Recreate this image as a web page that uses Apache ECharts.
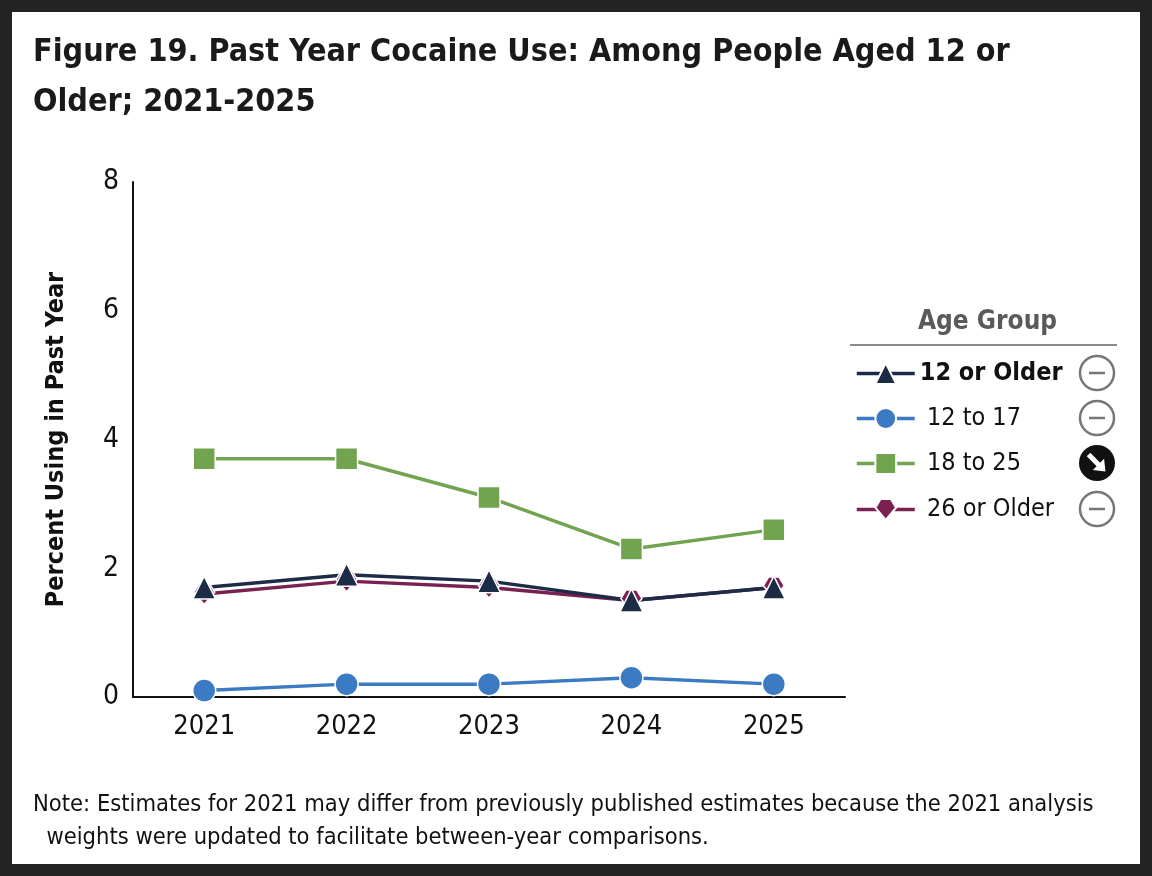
<!DOCTYPE html>
<html>
<head>
    <meta charset="utf-8" />
    <title>Figure 19. Past Year Cocaine Use</title>
    <script src="https://cdn.jsdelivr.net/npm/echarts@6/dist/echarts.min.js"></script>
    <style type="text/css">
        html,
        body {
            width: 100%;
            height: 100%;
            margin: 0;
            background: #232323;
        }

        #chart {
            position: absolute;
            left: 12px;
            top: 12px;
            width: 1128px;
            height: 852px;
            background: #ffffff;
        }
    </style>
</head>
<body>
    <div id="chart"></div>
    <script>
        var years = ['2021', '2022', '2023', '2024', '2025'];
        var yTicks = [0, 2, 4, 6, 8];
        var groupNames = ['12 or Older', '12 to 17', '18 to 25', '26 or Older'];
        var olderAll = [1.7, 1.9, 1.8, 1.5, 1.7];
        var age12to17 = [0.1, 0.2, 0.2, 0.3, 0.2];
        var age18to25 = [3.7, 3.7, 3.1, 2.3, 2.6];
        var older26 = [1.6, 1.8, 1.7, 1.5, 1.7];
        // trend vs 2024: 'flat' or 'down'
        var trends = ['flat', 'flat', 'down', 'flat'];

        var font = '"Liberation Sans Narrow", "DejaVu Sans Condensed", "Liberation Sans", sans-serif';
        var colors = {
            '12 or Older': '#1d2c46',
            '12 to 17': '#3b7bc3',
            '18 to 25': '#72a450',
            '26 or Older': '#7a2152'
        };
        var shield = 'path://M3,0 L9,0 L12,5 L6,12 L0,5 Z';

        function makeSeries(name, data, symbol, size) {
            return {
                name: name,
                type: 'line',
                data: data,
                symbol: symbol,
                symbolSize: size,
                showSymbol: true,
                lineStyle: { color: colors[name], width: 3.5 },
                itemStyle: { color: colors[name], borderColor: '#ffffff', borderWidth: 1.5 },
                emphasis: { disabled: true }
            };
        }

        var rowY = [361, 406, 451, 497];

        var legends = groupNames.map(function (n, i) {
            return {
                data: [n],
                orient: 'vertical',
                left: 838,
                top: rowY[i] - 17,
                itemWidth: 58,
                itemHeight: 26,
                itemGap: 0,
                selectedMode: false,
                formatter: i === 0 ? '{name}' : ' {name}',
                lineStyle: { width: 3.5 },
                textStyle: {
                    fontFamily: font,
                    fontSize: 25,
                    fontWeight: i === 0 ? 'bold' : 'normal',
                    color: '#111111'
                }
            };
        });

        var graphics = [
            {
                type: 'text',
                left: 906,
                top: 297,
                style: { text: 'Age Group', font: 'bold 26px ' + font, fill: '#5a5a5a' }
            },
            {
                type: 'line',
                shape: { x1: 838, y1: 333, x2: 1105, y2: 333 },
                style: { stroke: '#8a8a8a', lineWidth: 2 }
            }
        ];
        trends.forEach(function (t, i) {
            var cy = rowY[i];
            if (t === 'flat') {
                graphics.push({
                    type: 'circle',
                    shape: { cx: 1085, cy: cy, r: 17 },
                    style: { fill: '#ffffff', stroke: '#777777', lineWidth: 2.5 }
                });
                graphics.push({
                    type: 'line',
                    shape: { x1: 1077, y1: cy, x2: 1093, y2: cy },
                    style: { stroke: '#777777', lineWidth: 2.5 }
                });
            } else {
                graphics.push({
                    type: 'circle',
                    shape: { cx: 1085, cy: cy, r: 18 },
                    style: { fill: '#111111' }
                });
                graphics.push({
                    type: 'polygon',
                    x: 1085,
                    y: cy,
                    rotation: -Math.PI / 4,
                    shape: { points: [[-12, -2.5], [2, -2.5], [2, -8], [12, 0], [2, 8], [2, 2.5], [-12, 2.5]] },
                    style: { fill: '#ffffff' }
                });
            }
        });

        var chart = echarts.init(document.getElementById('chart'));
        chart.setOption({
            animation: false,
            title: [
                {
                    text: 'Figure 19. Past Year Cocaine Use: Among People Aged 12 or\nOlder; 2021-2025',
                    left: 16,
                    top: 11,
                    textStyle: { fontFamily: font, fontSize: 32, fontWeight: 'bold', color: '#1a1a1a', lineHeight: 50 }
                },
                {
                    text: 'Note: Estimates for 2021 may differ from previously published estimates because the 2021 analysis\n  weights were updated to facilitate between-year comparisons.',
                    left: 16,
                    top: 771,
                    textStyle: { fontFamily: font, fontSize: 23.5, fontWeight: 'normal', color: '#111111', lineHeight: 33 }
                }
            ],
            legend: legends,
            grid: { left: 121, top: 170, width: 712, height: 515 },
            xAxis: {
                type: 'category',
                data: years,
                boundaryGap: true,
                axisLine: { lineStyle: { color: '#111111', width: 2 } },
                axisTick: { show: false },
                axisLabel: { fontFamily: font, fontSize: 27, color: '#111111', margin: 16 }
            },
            yAxis: {
                type: 'value',
                min: yTicks[0],
                max: yTicks[yTicks.length - 1],
                interval: yTicks[1] - yTicks[0],
                name: 'Percent Using in Past Year',
                nameLocation: 'middle',
                nameGap: 64,
                nameTextStyle: { fontFamily: font, fontSize: 25, fontWeight: 'bold', color: '#111111' },
                axisLine: { show: true, lineStyle: { color: '#111111', width: 2 } },
                axisTick: { show: false },
                splitLine: { show: false },
                axisLabel: { fontFamily: font, fontSize: 28, color: '#111111', margin: 14 }
            },
            series: [
                makeSeries('12 to 17', age12to17, 'circle', 23),
                makeSeries('18 to 25', age18to25, 'rect', 22),
                makeSeries('26 or Older', older26, shield, 21),
                makeSeries('12 or Older', olderAll, 'triangle', 23)
            ],
            graphic: graphics
        });
    </script>
</body>
</html>
